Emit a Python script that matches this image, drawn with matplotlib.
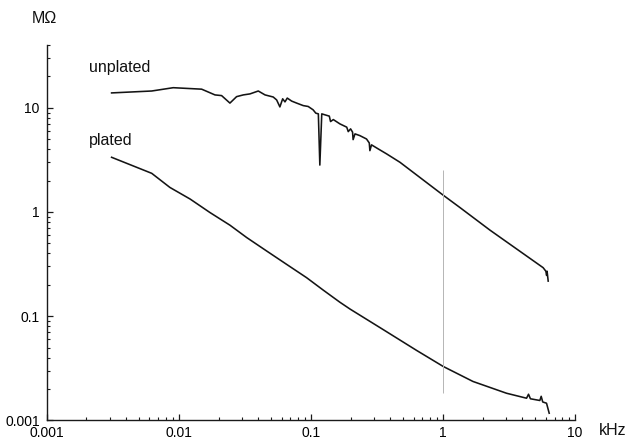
import matplotlib
matplotlib.use("Agg")
import matplotlib.pyplot as plt
from matplotlib.ticker import LogLocator, NullFormatter, FixedLocator, FixedFormatter

plt.rcParams['font.family'] = ['Liberation Sans', 'DejaVu Sans']

# ---- data (frequency in kHz, impedance in MOhm) ----
f_unplated = [0.00310, 0.00624, 0.00908, 0.0149, 0.0188, 0.0211, 0.0244, 0.0274, 0.0308,
              0.0346, 0.0400, 0.0450, 0.0519, 0.0551, 0.0583, 0.0612, 0.0637, 0.0663,
              0.0716, 0.0781, 0.0876, 0.0955, 0.104, 0.109, 0.114, 0.117, 0.121, 0.128,
              0.138, 0.141, 0.148, 0.166, 0.187, 0.192, 0.200, 0.207, 0.209, 0.216,
              0.235, 0.264, 0.277, 0.280, 0.288, 0.324, 0.375, 0.473, 1.005, 1.35,
              2.27, 5.74, 6.02, 6.10, 6.15, 6.27]
z_unplated = [13.9, 14.5, 15.6, 15.1, 13.3, 13.1, 11.1, 12.8, 13.3,
              13.6, 14.5, 13.3, 12.7, 11.9, 10.2, 12.2, 11.4, 12.4,
              11.6, 11.1, 10.5, 10.3, 9.57, 8.89, 8.75, 2.82, 8.75, 8.56,
              8.32, 7.38, 7.71, 7.01, 6.52, 5.91, 6.28, 5.84, 4.95, 5.62,
              5.41, 5.02, 4.60, 3.88, 4.41, 4.03, 3.61, 3.00, 1.45, 1.10,
              0.670, 0.292, 0.270, 0.246, 0.270, 0.217]

f_plated = [0.00310, 0.00624, 0.00857, 0.0122, 0.0172, 0.0244, 0.0327, 0.0463, 0.0656,
            0.0929, 0.124, 0.166, 0.198, 0.353, 0.632, 1.005, 1.69, 3.03, 4.30, 4.45,
            4.60, 5.42, 5.55, 5.70, 6.09, 6.38]
z_plated = [3.35, 2.35, 1.72, 1.33, 0.989, 0.747, 0.568, 0.422, 0.314,
            0.234, 0.178, 0.136, 0.117, 0.0743, 0.0469, 0.0329, 0.0236, 0.0182, 0.0163, 0.0178,
            0.0161, 0.0155, 0.0170, 0.0150, 0.0146, 0.0117]

marker_freq = 1.0
marker_span = [0.0184, 2.53]

x_ticks = [0.001, 0.01, 0.1, 1, 10]
x_ticklabels = ['0.001', '0.01', '0.1', '1', '10']
y_ticks = [0.01, 0.1, 1, 10]
y_ticklabels = ['0.001', '0.1', '1', '10']

# ---- figure ----
fig = plt.figure(figsize=(6.38, 4.43), dpi=100)
ax = fig.add_axes([0.0732, 0.0512, 0.828, 0.847])
ax.set_xscale('log')
ax.set_yscale('log')
ax.set_xlim(0.001, 10)
ax.set_ylim(0.01, 40)

ax.plot(f_unplated, z_unplated, color='#141414', lw=1.15)
ax.plot(f_plated, z_plated, color='#141414', lw=1.15)
ax.vlines(marker_freq, marker_span[0], marker_span[1], color='#b5b5b5', lw=0.7)

for s in ['top', 'right']:
    ax.spines[s].set_visible(False)
for s in ['left', 'bottom']:
    ax.spines[s].set_linewidth(1.0)
    ax.spines[s].set_color('#1a1a1a')

ax.xaxis.set_major_locator(FixedLocator(x_ticks))
ax.xaxis.set_major_formatter(FixedFormatter(x_ticklabels))
ax.xaxis.set_minor_locator(LogLocator(base=10, subs=range(2, 10)))
ax.xaxis.set_minor_formatter(NullFormatter())
ax.yaxis.set_major_locator(FixedLocator(y_ticks))
ax.yaxis.set_major_formatter(FixedFormatter(y_ticklabels))
ax.yaxis.set_minor_locator(LogLocator(base=10, subs=range(2, 10)))
ax.yaxis.set_minor_formatter(NullFormatter())

ax.tick_params(which='major', direction='in', length=4, width=0.9, color='#1a1a1a',
               labelsize=10, pad=4)
ax.tick_params(which='minor', direction='in', length=2.2, width=0.8, color='#1a1a1a')
ax.tick_params(axis='y', which='major', pad=5)

ax.text(0.00209, 22.2, 'unplated', fontsize=11.5, va='baseline', ha='left', color='#111111')
ax.text(0.00209, 4.41, 'plated', fontsize=11.5, va='baseline', ha='left', color='#111111')

fig.text(0.050, 0.947, 'MΩ', fontsize=11.5, va='baseline', ha='left', color='#111111')
fig.text(0.939, 0.018, 'kHz', fontsize=11.5, va='baseline', ha='left', color='#111111')

fig.savefig('out.png', dpi=100)
